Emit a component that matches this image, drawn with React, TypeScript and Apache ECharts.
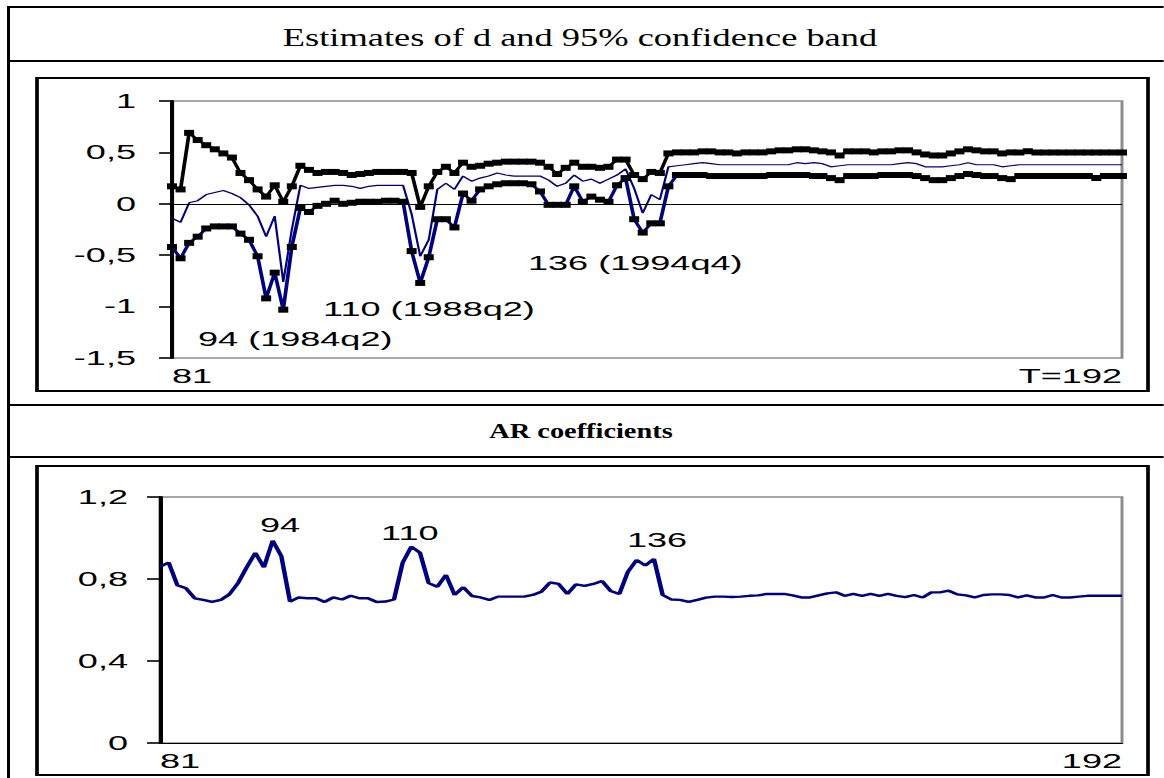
import React, { useEffect, useRef } from "react";
import * as echarts from "echarts";

// horizontal stretch of the reference picture
const SX = 1.85;
const W = 1164;
const H = 778;
const IW = W / SX;
const X = (px: number) => px / SX;

const FIRST_OBS = 81;
const LAST_OBS = 192;
const observations = Array.from({ length: LAST_OBS - FIRST_OBS + 1 }, (_, i) => String(FIRST_OBS + i));

const upperBand = [
  0.17, 0.14, 0.69, 0.62, 0.57, 0.53, 0.49, 0.45, 0.30, 0.23,
  0.14, 0.07, 0.18, 0.02, 0.17, 0.37, 0.33, 0.30, 0.31, 0.31,
  0.30, 0.28, 0.29, 0.30, 0.31, 0.31, 0.31, 0.31, 0.30, -0.03,
  0.17, 0.31, 0.36, 0.30, 0.40, 0.36, 0.37, 0.39, 0.40, 0.41,
  0.41, 0.41, 0.41, 0.40, 0.36, 0.29, 0.35, 0.40, 0.36, 0.36,
  0.35, 0.36, 0.43, 0.43, 0.28, 0.24, 0.31, 0.30, 0.49, 0.50,
  0.50, 0.50, 0.51, 0.51, 0.50, 0.50, 0.49, 0.50, 0.50, 0.50,
  0.51, 0.52, 0.52, 0.53, 0.53, 0.52, 0.51, 0.50, 0.47, 0.51,
  0.51, 0.51, 0.50, 0.51, 0.51, 0.52, 0.52, 0.50, 0.48, 0.47,
  0.47, 0.49, 0.51, 0.53, 0.52, 0.51, 0.51, 0.49, 0.50, 0.50,
  0.51, 0.50, 0.50, 0.50, 0.50, 0.50, 0.50, 0.50, 0.50, 0.50,
  0.50, 0.50,
];

const lowerBand = [
  -0.42, -0.53, -0.38, -0.32, -0.24, -0.22, -0.22, -0.22, -0.29, -0.35,
  -0.51, -0.92, -0.67, -1.03, -0.42, -0.04, -0.08, -0.02, 0.00, 0.03,
  0.00, 0.01, 0.02, 0.02, 0.02, 0.03, 0.03, 0.02, -0.46, -0.77,
  -0.52, -0.15, -0.15, -0.23, 0.10, 0.03, 0.14, 0.17, 0.19, 0.20,
  0.20, 0.20, 0.19, 0.12, -0.01, -0.01, -0.01, 0.17, 0.02, 0.07,
  0.04, 0.02, 0.18, 0.25, -0.15, -0.28, -0.19, -0.19, 0.17, 0.28,
  0.28, 0.28, 0.28, 0.27, 0.27, 0.27, 0.27, 0.27, 0.27, 0.27,
  0.28, 0.28, 0.28, 0.28, 0.28, 0.27, 0.27, 0.25, 0.23, 0.27,
  0.27, 0.27, 0.27, 0.28, 0.28, 0.28, 0.28, 0.27, 0.25, 0.23,
  0.23, 0.25, 0.27, 0.29, 0.28, 0.27, 0.27, 0.25, 0.24, 0.27,
  0.27, 0.27, 0.27, 0.27, 0.27, 0.27, 0.27, 0.27, 0.25, 0.27,
  0.27, 0.27,
];

const dEstimate = [
  -0.14, -0.18, 0.01, 0.03, 0.09, 0.11, 0.13, 0.10, 0.06, -0.01,
  -0.12, -0.32, -0.12, -0.76, -0.25, 0.18, 0.15, 0.16, 0.17, 0.18,
  0.18, 0.17, 0.15, 0.17, 0.18, 0.18, 0.18, 0.18, -0.10, -0.51,
  -0.35, 0.14, 0.20, 0.14, 0.27, 0.22, 0.25, 0.27, 0.30, 0.28,
  0.27, 0.27, 0.27, 0.27, 0.23, 0.17, 0.20, 0.28, 0.22, 0.24,
  0.20, 0.24, 0.28, 0.34, 0.15, -0.09, 0.09, 0.04, 0.36, 0.37,
  0.38, 0.39, 0.40, 0.39, 0.38, 0.38, 0.38, 0.38, 0.38, 0.38,
  0.38, 0.38, 0.38, 0.40, 0.39, 0.40, 0.39, 0.36, 0.37, 0.38,
  0.38, 0.38, 0.38, 0.38, 0.38, 0.39, 0.40, 0.39, 0.36, 0.36,
  0.36, 0.37, 0.38, 0.40, 0.38, 0.38, 0.38, 0.36, 0.37, 0.38,
  0.38, 0.38, 0.38, 0.38, 0.38, 0.38, 0.38, 0.38, 0.38, 0.38,
  0.38, 0.38,
];

const arCoefficients = [
  0.86, 0.88, 0.77, 0.755, 0.706, 0.698, 0.688, 0.698, 0.725, 0.78,
  0.857, 0.928, 0.857, 0.987, 0.912, 0.69, 0.71, 0.706, 0.706, 0.688,
  0.71, 0.70, 0.718, 0.706, 0.706, 0.688, 0.69, 0.70, 0.88, 0.958,
  0.928, 0.78, 0.762, 0.82, 0.722, 0.76, 0.717, 0.71, 0.698, 0.714,
  0.714, 0.714, 0.714, 0.722, 0.738, 0.783, 0.776, 0.727, 0.774, 0.766,
  0.776, 0.79, 0.741, 0.727, 0.836, 0.893, 0.866, 0.898, 0.722, 0.70,
  0.698, 0.688, 0.698, 0.709, 0.714, 0.714, 0.712, 0.714, 0.718, 0.72,
  0.727, 0.727, 0.727, 0.72, 0.71, 0.71, 0.72, 0.73, 0.735, 0.718,
  0.727, 0.718, 0.727, 0.718, 0.727, 0.718, 0.712, 0.722, 0.71, 0.735,
  0.735, 0.743, 0.725, 0.72, 0.71, 0.722, 0.725, 0.725, 0.722, 0.71,
  0.72, 0.71, 0.71, 0.722, 0.71, 0.71, 0.714, 0.718, 0.718, 0.718,
  0.718, 0.718,
];

const dTickValues = [-1.5, -1, -0.5, 0, 0.5, 1];
const dTickLabels = ["-1,5", "-1", "-0,5", "0", "0,5", "1"];
const arTickValues = [0, 0.4, 0.8, 1.2];
const arTickLabels = ["0", "0,4", "0,8", "1,2"];
const dXLabels = ["81", "T=192"];
const arXLabels = ["81", "192"];

const titleTop = "Estimates of d and 95% confidence band";
const titleBottom = "AR coefficients";
const dNotes = ["94 (1984q2)", "110 (1988q2)", "136 (1994q4)"];
const arNotes = ["94", "110", "136"];

const NAVY = "#000080";
const SANS = "'Liberation Sans', Arial, sans-serif";
const SERIF = "'Liberation Serif', 'Times New Roman', serif";
const FS = 19.5;

function pick(values: number[], labels: string[]) {
  return (v: number) => {
    const i = values.findIndex((t) => Math.abs(t - v) < 1e-6);
    return i >= 0 ? labels[i] : "";
  };
}

function xAxisCfg(gridIndex: number, labels: string[], lineShow: boolean) {
  const last = observations.length - 1;
  return {
    type: "category",
    gridIndex,
    data: observations,
    boundaryGap: false,
    axisLine: { show: lineShow, onZero: false, lineStyle: { color: "#000", width: 1.2 } },
    axisTick: { show: false },
    splitLine: { show: false },
    axisLabel: {
      interval: (i: number) => i === 0 || i === last,
      formatter: (_v: string, i: number) => (i === 0 ? labels[0] : labels[1]),
      alignMinLabel: "left",
      alignMaxLabel: "right",
      color: "#000",
      fontFamily: SANS,
      fontSize: FS,
      margin: 8,
    },
  };
}

function yAxisCfg(gridIndex: number, min: number, max: number, interval: number, vals: number[], labs: string[], margin: number) {
  return {
    type: "value",
    gridIndex,
    min,
    max,
    interval,
    axisLine: { show: true, lineStyle: { color: "#000", width: 2.2 } },
    axisTick: { show: true, length: 7, lineStyle: { color: "#000", width: 1.6 } },
    splitLine: { show: false },
    axisLabel: {
      formatter: pick(vals, labs),
      color: "#000",
      fontFamily: SANS,
      fontSize: FS,
      margin,
    },
  };
}

function hLine(y: number, x1: number, x2: number, w = 2) {
  return { type: "line", shape: { x1: X(x1), y1: y, x2: X(x2), y2: y }, style: { stroke: "#000", lineWidth: w } };
}

function note(text: string, x: number, y: number) {
  return {
    type: "text",
    x: X(x),
    y,
    style: { text, fill: "#000", font: `${FS}px ${SANS}`, align: "left", verticalAlign: "middle" },
  };
}

export default function App() {
  const ref = useRef<HTMLDivElement>(null);

  useEffect(() => {
    if (!ref.current) return;
    const chart = echarts.init(ref.current, null, { renderer: "svg" });
    const option: any = {
      animation: false,
      backgroundColor: "#fff",
      grid: [
        {
          left: X(172), top: 101, width: X(1122 - 172), height: 257,
          show: true, borderColor: "#8c8c8c", borderWidth: 1.6, backgroundColor: "transparent",
          containLabel: false, outerBoundsMode: "none",
        },
        {
          left: X(160), top: 497, width: X(1122 - 160), height: 246,
          show: true, borderColor: "#8c8c8c", borderWidth: 1.6, backgroundColor: "transparent",
          containLabel: false, outerBoundsMode: "none",
        },
      ],
      xAxis: [xAxisCfg(0, dXLabels, false), xAxisCfg(1, arXLabels, true)],
      yAxis: [
        yAxisCfg(0, -1.5, 1, 0.5, dTickValues, dTickLabels, X(172 - 136)),
        yAxisCfg(1, 0, 1.2, 0.4, arTickValues, arTickLabels, X(160 - 128)),
      ],
      series: [
        {
          name: "d",
          type: "line",
          xAxisIndex: 0,
          yAxisIndex: 0,
          data: dEstimate,
          symbol: "none",
          lineStyle: { color: NAVY, width: 1.2 },
          z: 2,
          markLine: {
            silent: true,
            symbol: "none",
            label: { show: false },
            lineStyle: { color: "#000", width: 1, type: "solid" },
            data: [{ yAxis: 0 }],
          },
        },
        {
          name: "lower",
          type: "line",
          xAxisIndex: 0,
          yAxisIndex: 0,
          data: lowerBand,
          symbol: "rect",
          symbolSize: [X(10), 6],
          showAllSymbol: true,
          lineStyle: { color: NAVY, width: 2 },
          itemStyle: { color: "#000" },
          z: 3,
        },
        {
          name: "upper",
          type: "line",
          xAxisIndex: 0,
          yAxisIndex: 0,
          data: upperBand,
          symbol: "rect",
          symbolSize: [X(10), 6],
          showAllSymbol: true,
          lineStyle: { color: "#000", width: 2 },
          itemStyle: { color: "#000" },
          z: 3,
        },
        {
          name: "AR",
          type: "line",
          xAxisIndex: 1,
          yAxisIndex: 1,
          data: arCoefficients,
          symbol: "none",
          lineStyle: { color: NAVY, width: 2.4 },
        },
      ],
      graphic: [
        // table frame
        hLine(7, 8, W),
        hLine(61, 8, W),
        hLine(405, 8, W),
        hLine(457, 8, W),
        { type: "line", shape: { x1: X(8.5), y1: 6, x2: X(8.5), y2: H }, style: { stroke: "#000", lineWidth: X(3) } },
        { type: "rect", shape: { x: X(37), y: 78, width: X(1148 - 37), height: 391 - 78 }, style: { stroke: "#000", fill: "none", lineWidth: 2 } },
        { type: "rect", shape: { x: X(37), y: 466, width: X(1148 - 37), height: 775 - 466 }, style: { stroke: "#000", fill: "none", lineWidth: 2 } },
        // row titles
        {
          type: "text", x: X(580), y: 37, scaleX: 1.4 / SX,
          style: { text: titleTop, fill: "#000", font: `26px ${SERIF}`, align: "center", verticalAlign: "middle" },
        },
        {
          type: "text", x: X(581), y: 431, scaleX: 1.35 / SX,
          style: { text: titleBottom, fill: "#000", font: `bold 21px ${SERIF}`, align: "center", verticalAlign: "middle" },
        },
        // annotations
        note(dNotes[0], 198, 339),
        note(dNotes[1], 323, 309),
        note(dNotes[2], 528, 263),
        note(arNotes[0], 260, 525),
        note(arNotes[1], 381, 533),
        note(arNotes[2], 627, 540),
      ],
    };
    chart.setOption(option);
    return () => chart.dispose();
  }, []);

  return (
    <div
      ref={ref}
      style={{
        position: "absolute",
        left: 0,
        top: 0,
        width: IW,
        height: H,
        transform: `scaleX(${SX})`,
        transformOrigin: "0 0",
        background: "#fff",
      }}
    />
  );
}
